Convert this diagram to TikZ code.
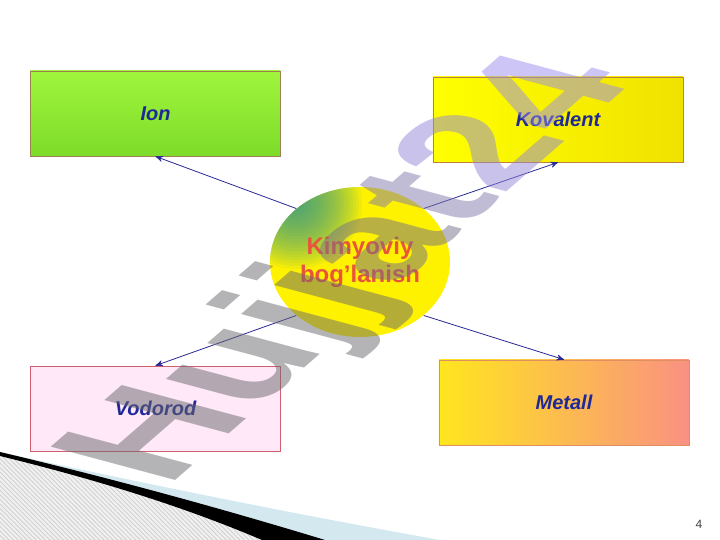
\documentclass[tikz,border=0pt]{standalone}
\usepackage{fontspec}
\setmainfont{Liberation Sans}
\usepackage{xcolor}
\usepackage{tikz}
\usetikzlibrary{arrows, shapes.geometric, patterns.meta}

\definecolor{labelblue}{RGB}{30,40,150}
\definecolor{linkblue}{RGB}{40,40,150}
\definecolor{bondred}{RGB}{232,84,60}
\definecolor{spot}{RGB}{40,150,150}
\definecolor{wmgray}{RGB}{105,105,110}
\definecolor{wmlav}{RGB}{155,140,235}
\definecolor{skyband}{RGB}{212,232,240}

\begin{document}
\begin{tikzpicture}[x=0.5pt, y=-0.5pt, >=stealth',
    box/.style={draw, line width=0.4pt, minimum width=125pt, minimum height=42.5pt, inner sep=0pt,
        font=\bfseries\itshape\fontsize{10}{12}\selectfont, text=labelblue},
    link/.style={->, line width=0.4pt, draw=linkblue}]
            \useasboundingbox (0,0) rectangle (720,540);
            % corner decoration
            \fill[skyband] (0,452) .. controls (150,485) and (300,515) .. (440,540) -- (262,540) -- cycle;
            \fill[gray!12] (0,456) .. controls (90,478) and (180,505) .. (262,540) -- (0,540) -- cycle;
            \fill[pattern={Lines[angle=-45, distance=1.6pt, line width=0.35pt]}, pattern color=gray!40]
                (0,456) .. controls (90,478) and (180,505) .. (262,540) -- (0,540) -- cycle;
            \fill[black] (0,452) .. controls (110,478) and (220,508) .. (325,540) -- (262,540)
                .. controls (180,505) and (90,478) .. (0,456) -- cycle;
            % boxes
            \node[box, draw={rgb,255:red,160;green,128;blue,80}, top color={rgb,255:red,160;green,245;blue,60},
                bottom color={rgb,255:red,125;green,220;blue,42}] (ion) at (155.5,113.5) {Ion};
            \node[box, draw={rgb,255:red,192;green,128;blue,64}, left color=yellow,
                right color={rgb,255:red,240;green,226;blue,0}] (kov) at (558,119.5) {Kovalent};
            \node[box, draw={rgb,255:red,208;green,96;blue,112}, fill={rgb,255:red,255;green,232;blue,248}] (vod) at (155.5,408.5) {Vodorod};
            \node[box, draw={rgb,255:red,224;green,144;blue,96}, left color={rgb,255:red,255;green,230;blue,30},
                right color={rgb,255:red,250;green,145;blue,130}] (met) at (564,402.5) {Metall};
            % centre
            \node[ellipse, fill=yellow, minimum width=90pt, minimum height=75pt, inner sep=0pt, align=center,
                font=\bfseries\fontsize{12}{14}\selectfont, text=bondred,
                path picture={\foreach \r in {66,63,...,6}
                    \fill[spot, opacity=0.065] ([shift={(26,16)}]path picture bounding box.north west) circle (\r);}]
                (bond) at (360,262) {Kimyoviy\\bog’lanish};
            \draw (bond.140) edge[link] (ion.south);
            \draw (bond.40) edge[link] (kov.south);
            \draw (bond.220) edge[link] (vod.north);
            \draw (bond.320) edge[link] (met.north);
            % watermark
            \begin{scope}[shift={(402,283)}, cm={0.8385,0.7289,-1.2557,0.3365,(0,0)}]
                \node[transform shape, anchor=base, inner sep=0pt, opacity=0.5,
                    font=\bfseries\fontsize{72}{72}\selectfont] (wm) at (0,0)
                    {\color{wmgray}Hujj\color{wmgray!80!wmlav}a\color{wmgray!50!wmlav}t\color{wmlav!85!wmgray}2\color{wmlav}4};
            \end{scope}
            \node[font=\fontsize{6}{7}\selectfont, text=darkgray] (pg) at (699,524) {4};
        \end{tikzpicture}
\end{document}
